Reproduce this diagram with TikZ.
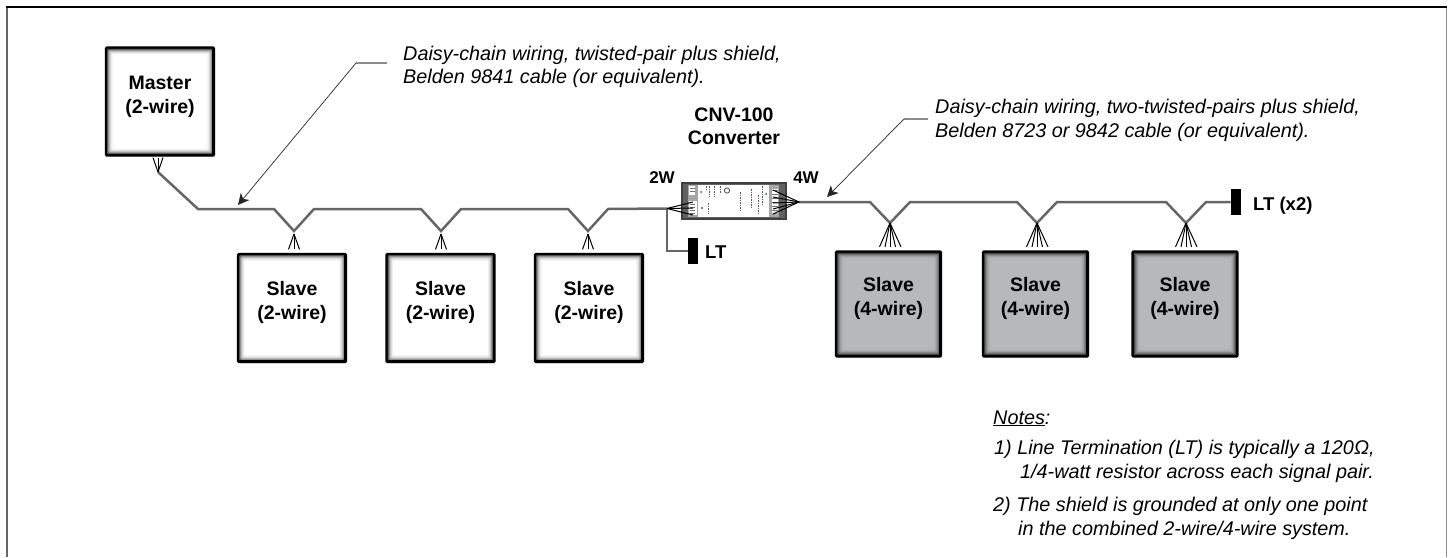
\documentclass[tikz,border=0pt]{standalone}
\usepackage{fontspec}
\setmainfont{Liberation Sans}
\usetikzlibrary{calc,shadows,arrows.meta}
\definecolor{wire}{HTML}{666666}
\definecolor{slate}{HTML}{B6B8BA}
\newcommand{\boxlabel}[2]{\raisebox{5pt}[\height][\depth]{\begin{tabular}{@{}c@{}}#1\\#2\end{tabular}}}
\newcommand{\bevelrects}[1]{%
  \foreach \i/\p in {1/85,2/65,3/42,4/26,5/14,6/6}{%
    \draw[color=black!\p!#1,line width=1.1pt]
      ([shift={(\i,\i)}]path picture bounding box.north west) rectangle
      ([shift={(-\i,-\i)}]path picture bounding box.south east);}%
  \draw[black,line width=4pt] (path picture bounding box.south west) -- (path picture bounding box.south east);
  \draw[black,line width=4pt] (path picture bounding box.south east) -- (path picture bounding box.north east);
}
\tikzset{
  panel/.style={draw=black,line width=2.2pt,rounded corners=1pt,minimum width=#1,minimum height=#1,inner sep=0pt,align=center,
     font=\bfseries\fontsize{19.5}{24}\selectfont,
     drop shadow={shadow xshift=1pt,shadow yshift=-1.5pt,opacity=.18}},
  panel/.default=108pt,
  whitebox/.style={panel=108pt,fill=white,path picture={\bevelrects{white}}},
  graybox/.style={panel=105pt,fill=slate,path picture={\bevelrects{slate}}},
  wireline/.style={draw=wire,line width=2.5pt,line join=miter},
  fan/.style={draw=black,line width=1pt},
  leader/.style={draw=black!85,line width=.7pt},
  shelf/.style={draw=black!45,line width=1.1pt},
  note/.style={font=\itshape\fontsize{19.8}{23}\selectfont,anchor=base west,inner sep=0pt},
  tag/.style={font=\bfseries\fontsize{17}{20}\selectfont,inner sep=0pt},
  bar/.style={fill=black,draw=none,minimum width=10.5pt,minimum height=26pt,inner sep=0pt},
}
\begin{document}
\begin{tikzpicture}[x=1pt,y=-1pt]
\useasboundingbox (0,0) rectangle (1450,557);
% frame
\draw[black!60,line width=2pt] (7,557) -- (7,7);
\draw[black!45,line width=1.3pt] (1446.5,7) -- (1446.5,557);
\draw[black,line width=2pt] (6,7) -- (1447,7);
% boxes
\node[whitebox] (m) at (160,101.5) {\boxlabel{Master}{(2-wire)}};
\node[whitebox] (s1) at (292,308) {\boxlabel{Slave}{(2-wire)}};
\node[whitebox] (s2) at (440.5,308) {\boxlabel{Slave}{(2-wire)}};
\node[whitebox] (s3) at (589,308) {\boxlabel{Slave}{(2-wire)}};
\node[graybox] (g1) at (888.5,304) {\boxlabel{Slave}{(4-wire)}};
\node[graybox] (g2) at (1035.5,304) {\boxlabel{Slave}{(4-wire)}};
\node[graybox] (g3) at (1185,304) {\boxlabel{Slave}{(4-wire)}};
\node[bar] (bar1) at (693,251) {};
\node[bar] (bar2) at (1236,202) {};
% wire points
\coordinate (am) at (158,172);
\coordinate (a0) at (198,209);
\foreach \n/\x in {1/294,2/441,3/588}{
  \coordinate (p\n) at (\x-20,209);
  \coordinate (j\n) at (\x,231);
  \coordinate (q\n) at (\x+20,209);
  \coordinate (t\n) at (\x,234);
}
\coordinate (cl) at (667,208.5);
\coordinate (cr) at (799,202);
\coordinate (lt) at (667,251);
\foreach \n/\x in {1/890,2/1037,3/1186}{
  \coordinate (u\n) at (\x-20,202);
  \coordinate (k\n) at (\x,223);
  \coordinate (v\n) at (\x+20,202);
}
% converter
\node[draw=black!75,fill=black!62,line width=1.5pt,minimum width=104pt,minimum height=36pt,inner sep=0pt] (cv) at (734,201) {};
\fill[white] (698,185) rectangle (769,217);
\fill[black!35] (769,185) rectangle (779,217);
\fill[white] (772,189) rectangle (778,213);
\fill[black!35] (688,185) rectangle (698,217);
\fill[white] (689,186) rectangle (695,195);
\fill[white] (689,201) rectangle (697,215);
\foreach \y in {190,194,198,202,206,210}{\draw[black!55,line width=.6pt] (772,\y) -- (778,\y);}
\foreach \y in {188,191,204,207,210,213}{\draw[black!55,line width=.6pt] (690,\y) -- (695,\y);}
\fill[green!55!black] (701,192) circle (1pt) (702,208) circle (1.1pt) (766,194) circle (1pt);
\foreach \x/\a/\b in {706/186/191,708/203/214,709/186/197,714/186/197,720/186/193,740/192/211,751/189/207,758/195/214,762/186/205}{
  \draw[black!65,line width=.9pt,dash pattern=on 1.5pt off 1pt] (\x,\a) -- (\x,\b);}
\draw[black!70,line width=.8pt] (727,190.5) circle (2.6pt);
% wires
\draw[wireline] (am) -- (a0) -- (p1) -- (j1) -- (q1) -- (p2) -- (j2) -- (q2) -- (p3) -- (j3) -- (q3) -- (cl);
\draw[wireline,line width=2pt] (cl) -- (lt) -- (bar1.west |- lt);
\draw[wireline] (cr) -- (u1) -- (k1) -- (v1) -- (u2) -- (k2) -- (v2) -- (u3) -- (k3) -- (v3) -- (bar2.west |- v3);
% fans
\foreach \b in {-5,0,5}{\draw[fan] ($(m.south -| am)+(\b,1)$) -- (am);}
\foreach \n/\s in {1/s1,2/s2,3/s3}{\foreach \b in {-5.5,0,5.5}{\draw[fan] (t\n) -- ($(t\n |- \s.north)+(\b,-3.5)$);}}
\foreach \n/\s in {1/g1,2/g2,3/g3}{\foreach \b in {-10.5,-5,0,5.5,11}{\draw[fan] (k\n) -- ($(k\n |- \s.north)+(\b,-3.5)$);}}
\foreach \y/\e in {190/1,197/2,203/3,209/4,214/5}{\coordinate (r\e) at (773,\y);\draw[fan] (r\e) -- (cr);}
\foreach \y/\e in {202/1,208/2,215/3}{\coordinate (l\e) at (693,\y);\draw[fan] (l\e) -- (cl);}
% labels
\node[tag,anchor=base,align=center,font=\bfseries\fontsize{19.5}{23}\selectfont] (cvt) at (734,144) {CNV-100\\Converter};
\node[tag,anchor=center] (w2) at (662,178) {2W};
\node[tag,anchor=center] (w4) at (806,178) {4W};
\node[tag,anchor=base west,font=\bfseries\fontsize{18.5}{22}\selectfont] (ltl) at (705,258) {LT};
\node[tag,anchor=base west,font=\bfseries\fontsize{18.5}{22}\selectfont] (ltx) at (1253,210) {LT (x2)};
% callouts
\node[note] (c1a) at (403,60) {Daisy-chain wiring, twisted-pair plus shield,};
\node[note] (c1b) at (403,83) {Belden 9841 cable (or equivalent).};
\node[note] (c2a) at (935,113) {Daisy-chain wiring, two-twisted-pairs plus shield,};
\node[note] (c2b) at (935,137) {Belden 8723 or 9842 cable (or equivalent).};
\coordinate (e1) at (387,63);
\coordinate (b1) at (356,63);
\coordinate (tip1) at (238,205);
\coordinate (e2) at (928,119);
\coordinate (b2) at (904,119);
\coordinate (tip2) at (827,197);
\draw[shelf] (e1) -- (b1);
\draw[leader,-{Stealth[length=11pt,width=11pt,inset=3pt]}] (b1) -- (tip1);
\draw[shelf] (e2) -- (b2);
\draw[leader,-{Stealth[length=11pt,width=11pt,inset=3pt]}] (b2) -- (tip2);
% notes
\node[note] (n0) at (993,424) {\underline{Notes}:};
\node[note] (n1) at (994,454) {1) Line Termination (LT) is typically a 120Ω,};
\node[note] (n1b) at (1020,478) {1/4-watt resistor across each signal pair.};
\node[note] (n2) at (993,511) {2) The shield is grounded at only one point};
\node[note] (n2b) at (1018,535) {in the combined 2-wire/4-wire system.};
\end{tikzpicture}
\end{document}
